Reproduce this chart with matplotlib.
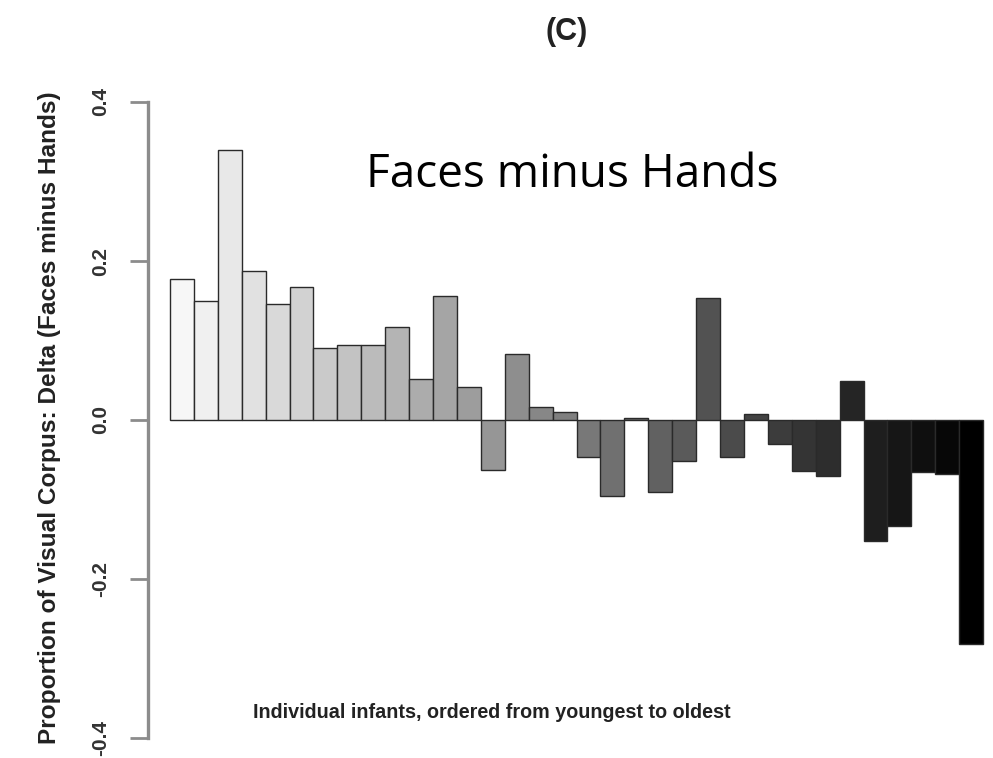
import matplotlib
matplotlib.use("Agg")
import matplotlib.pyplot as plt
import numpy as np

# Faces-minus-hands delta for each infant, youngest to oldest
infant_delta = [0.177, 0.150, 0.339, 0.188, 0.146, 0.167, 0.091, 0.094, 0.094,
                0.117, 0.052, 0.156, 0.041, -0.063, 0.083, 0.016, 0.010, -0.047,
                -0.095, 0.003, -0.091, -0.052, 0.154, -0.046, 0.008, -0.030,
                -0.064, -0.070, 0.049, -0.152, -0.133, -0.066, -0.068, -0.282]
y_ticks = [-0.4, -0.2, 0.0, 0.2, 0.4]
y_tick_labels = ["-0.4", "-0.2", "0.0", "0.2", "0.4"]

n = len(infant_delta)
x = np.arange(n)
# light (youngest) to dark (oldest)
shades = [str(v) for v in np.linspace(0.97, 0.0, n)]

fig = plt.figure(figsize=(9.93, 7.58), dpi=100)
ax = fig.add_axes([148 / 993, 1 - 738 / 758, (985 - 148) / 993, (738 - 102) / 758])

ax.bar(x, infant_delta, width=1.0, color=shades, edgecolor="#2a2a2a", linewidth=1.0)

ax.set_xlim(-1.42, n - 0.42)
ax.set_ylim(-0.4, 0.4)

for s in ("top", "right", "bottom"):
    ax.spines[s].set_visible(False)
ax.spines["left"].set_color("#8c8c8c")
ax.spines["left"].set_linewidth(2.4)

ax.set_xticks([])
ax.set_yticks(y_ticks)
ax.set_yticklabels(y_tick_labels, fontfamily="Liberation Sans", fontweight="bold",
                   fontsize=15, color="#333333")
ax.tick_params(axis="y", length=13, width=2.0, color="#8c8c8c", pad=14)
for lab in ax.get_yticklabels():
    lab.set_rotation(90)
    lab.set_va("center")

fig.text(50 / 993, 1 - 418 / 758, "Proportion of Visual Corpus: Delta (Faces minus Hands)",
         rotation=90, ha="center", va="center", fontfamily="Liberation Sans",
         fontweight="bold", fontsize=17.6, color="#222222")
fig.text(492 / 993, 1 - 713 / 758, "Individual infants, ordered from youngest to oldest",
         ha="center", va="center", fontfamily="Liberation Sans", fontweight="bold",
         fontsize=14.2, color="#222222")
fig.text(567 / 993, 1 - 32 / 758, "(C)", ha="center", va="center",
         fontfamily="Liberation Sans", fontweight="bold", fontsize=22, color="#222222")
fig.text(572 / 993, 1 - 187 / 758, "Faces minus Hands", ha="center", va="baseline",
         fontfamily="Open Sans", fontsize=33, color="black")

fig.savefig("out.png", dpi=100)
